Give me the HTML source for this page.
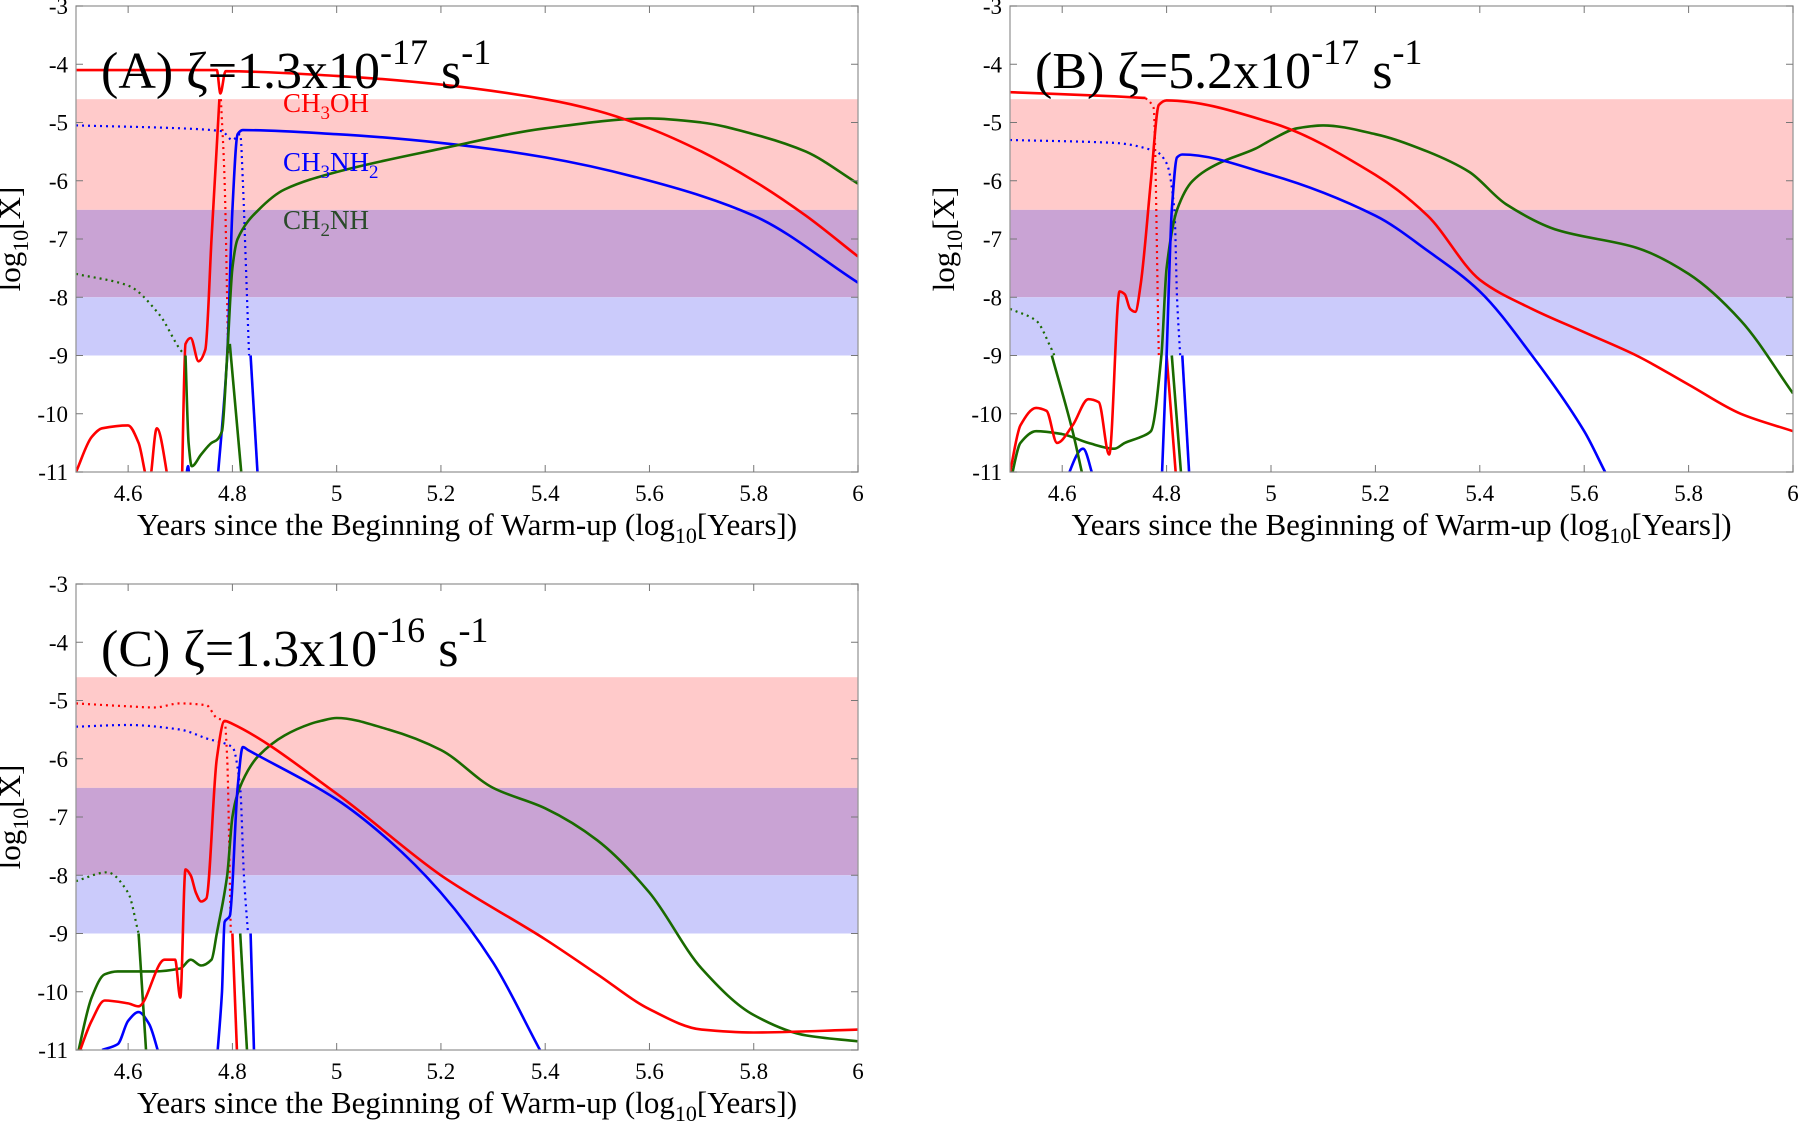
<!DOCTYPE html>
<html><head><meta charset="utf-8"><style>
html,body{margin:0;padding:0;background:#fff;}
svg{display:block;font-family:"Liberation Serif",serif;}
</style></head><body>
<svg id="fig" width="1800" height="1123" viewBox="0 0 1800 1123" xmlns="http://www.w3.org/2000/svg"></svg>
<script>
const NS="http://www.w3.org/2000/svg";
const xTicks=[4.6,4.8,5,5.2,5.4,5.6,5.8,6];
const xTickLabels=["4.6","4.8","5","5.2","5.4","5.6","5.8","6"];
const yTicks=[-3,-4,-5,-6,-7,-8,-9,-10,-11];
const yTickLabels=["-3","-4","-5","-6","-7","-8","-9","-10","-11"];
const bandLows=[-6.5,-8,-9];
const bandHighs=[-4.6,-6.5,-8];
const bandColors=["#ffcaca","#c9a3d4","#cbcbfb"];

// Panel A series
const aRed1=[[4.5,-4.1],[4.77,-4.1],[4.777,-4.5],[4.787,-4.12],[5.0,-4.2],[5.2,-4.35],[5.4,-4.6],[5.5,-4.8],[5.6,-5.1],[5.7,-5.5],[5.8,-6.0],[5.9,-6.6],[6.0,-7.3]];
const aRed2=[[4.5,-11],[4.53,-10.4],[4.55,-10.25],[4.6,-10.2],[4.62,-10.5],[4.64,-11.2],[4.655,-10.25],[4.68,-11.3]];
const aRed3=[[4.703,-11.3],[4.71,-8.8],[4.72,-8.7],[4.735,-9.1],[4.748,-8.9],[4.76,-7],[4.775,-4.6]];
const aRedDot=[[4.778,-4.6],[4.785,-6],[4.792,-9]];
const aBlueDot=[[4.5,-5.05],[4.7,-5.1],[4.78,-5.15],[4.8,-5.3],[4.815,-5.2],[4.82,-6],[4.826,-7.5],[4.832,-9]];
const aBlue1=[[4.77,-11.3],[4.79,-9],[4.8,-6.5],[4.81,-5.2],[4.82,-5.13],[5.0,-5.2],[5.2,-5.35],[5.4,-5.6],[5.6,-6.0],[5.8,-6.6],[6.0,-7.75]];
const aBlue2=[[4.835,-9],[4.85,-11.3]];
const aBlue3=[[4.71,-11.2],[4.715,-10.9],[4.718,-11.2]];
const aGreen1=[[4.71,-9],[4.716,-10.5],[4.722,-10.9],[4.74,-10.7],[4.76,-10.5],[4.77,-10.45],[4.78,-10.3],[4.79,-9],[4.8,-7.5],[4.81,-7.0],[4.85,-6.5],[4.9,-6.15],[5.0,-5.85],[5.2,-5.45],[5.4,-5.1],[5.6,-4.93],[5.7,-5.0],[5.8,-5.2],[5.9,-5.5],[6.0,-6.05]];
const aGreen2=[[4.795,-8.8],[4.82,-11.3]];
const aGreenDot=[[4.5,-7.6],[4.6,-7.8],[4.66,-8.3],[4.7,-8.9],[4.71,-9]];

// Panel B series
const bRedDot=[[4.76,-4.58],[4.775,-4.75],[4.785,-9]];
const bRed0=[[4.5,-4.48],[4.7,-4.55],[4.76,-4.58]];
const bRed1=[[4.5,-11],[4.52,-10.2],[4.55,-9.9],[4.57,-9.95],[4.59,-10.5],[4.62,-10.2],[4.65,-9.75],[4.67,-9.8],[4.69,-10.7],[4.71,-7.9],[4.72,-7.95],[4.73,-8.2],[4.74,-8.25],[4.75,-7.8],[4.77,-6],[4.785,-4.7],[4.8,-4.62],[5.0,-5.0],[5.2,-5.9],[5.3,-6.6],[5.4,-7.7],[5.5,-8.2],[5.6,-8.6],[5.7,-9.0],[5.8,-9.5],[5.9,-10.0],[6.0,-10.3]];
const bRed2=[[4.8,-9],[4.82,-11.3]];
const bBlueDot=[[4.5,-5.3],[4.7,-5.35],[4.78,-5.5],[4.8,-5.7],[4.815,-6.5],[4.82,-8],[4.826,-9]];
const bBlue1=[[4.79,-11.3],[4.8,-9],[4.81,-6.5],[4.82,-5.6],[4.83,-5.55],[5.0,-5.9],[5.2,-6.6],[5.3,-7.2],[5.4,-7.9],[5.5,-9.0],[5.6,-10.3],[5.64,-11]];
const bBlue2=[[4.6,-11.3],[4.64,-10.6],[4.66,-11.1]];
const bBlue3=[[4.83,-9],[4.845,-11.3]];
const bGreen1=[[4.5,-11.2],[4.52,-10.5],[4.55,-10.3],[4.6,-10.35],[4.65,-10.5],[4.7,-10.6],[4.72,-10.5],[4.75,-10.4],[4.77,-10.3],[4.79,-9],[4.8,-7.5],[4.82,-6.5],[4.85,-6.0],[4.9,-5.7],[4.97,-5.45],[5.0,-5.3],[5.05,-5.1],[5.1,-5.05],[5.2,-5.2],[5.3,-5.5],[5.38,-5.85],[5.45,-6.4],[5.55,-6.85],[5.7,-7.15],[5.8,-7.6],[5.9,-8.4],[6.0,-9.65]];
const bGreen2=[[4.58,-9],[4.62,-10.3],[4.64,-11.1]];
const bGreen3=[[4.81,-9],[4.83,-11.3]];
const bGreenDot=[[4.5,-8.2],[4.55,-8.4],[4.58,-8.9],[4.585,-9]];

// Panel C series
const cRedDot=[[4.5,-5.05],[4.6,-5.1],[4.65,-5.12],[4.7,-5.05],[4.75,-5.08],[4.77,-5.3],[4.785,-5.35],[4.79,-6],[4.797,-9]];
const cRed1=[[4.5,-11.2],[4.53,-10.5],[4.555,-10.15],[4.6,-10.2],[4.62,-10.25],[4.67,-9.45],[4.69,-9.45],[4.7,-10.1],[4.71,-7.9],[4.72,-8.0],[4.73,-8.3],[4.74,-8.45],[4.75,-8.4],[4.77,-6],[4.785,-5.35],[4.8,-5.4],[5.0,-6.6],[5.2,-8.0],[5.4,-9.1],[5.5,-9.7],[5.6,-10.3],[5.7,-10.65],[5.8,-10.7],[6.0,-10.65]];
const cRed2=[[4.8,-9],[4.81,-11.3]];
const cBlueDot=[[4.5,-5.45],[4.6,-5.42],[4.7,-5.5],[4.75,-5.65],[4.8,-5.8],[4.815,-6.5],[4.822,-8],[4.83,-9]];
const cBlue1=[[4.55,-11],[4.58,-10.9],[4.6,-10.5],[4.62,-10.35],[4.64,-10.55],[4.66,-11.1]];
const cBlue2=[[4.77,-11.2],[4.78,-10],[4.785,-8.8],[4.795,-8.7],[4.81,-6.5],[4.82,-5.8],[4.83,-5.85],[5.0,-6.7],[5.1,-7.4],[5.2,-8.3],[5.3,-9.5],[5.39,-11]];
const cBlue3=[[4.835,-9],[4.842,-11.2]];
const cGreen1=[[4.5,-11.2],[4.53,-10.1],[4.555,-9.7],[4.58,-9.65],[4.65,-9.65],[4.7,-9.6],[4.72,-9.45],[4.74,-9.55],[4.76,-9.45],[4.77,-9],[4.79,-8],[4.8,-7],[4.81,-6.6],[4.83,-6.2],[4.85,-5.95],[4.9,-5.6],[4.95,-5.4],[4.97,-5.35],[5.0,-5.3],[5.1,-5.5],[5.2,-5.85],[5.3,-6.5],[5.4,-6.85],[5.5,-7.4],[5.6,-8.3],[5.7,-9.6],[5.8,-10.4],[5.9,-10.75],[6.0,-10.85]];
const cGreen2=[[4.62,-9],[4.635,-11.1]];
const cGreen3=[[4.815,-9],[4.83,-11.3]];
const cGreenDot=[[4.5,-8.1],[4.56,-7.95],[4.6,-8.3],[4.62,-9]];

const RED="#ff0000",BLUE="#0000ff",GREEN="#1a6a00";
const svg=document.getElementById('fig');
function el(tag,attrs,parent){const e=document.createElementNS(NS,tag);for(const k in attrs)e.setAttribute(k,attrs[k]);(parent||svg).appendChild(e);return e;}

// monotone cubic (Fritsch-Carlson) path through pixel points
function monoPath(P){
  const n=P.length;if(n<3)return 'M'+P.map(p=>p[0].toFixed(1)+','+p[1].toFixed(1)).join('L');
  const d=[],m=[];
  for(let i=0;i<n-1;i++){const dx=P[i+1][0]-P[i][0];d.push(dx>0?(P[i+1][1]-P[i][1])/dx:0);}
  m[0]=d[0];m[n-1]=d[n-2];
  for(let i=1;i<n-1;i++){m[i]=(d[i-1]*d[i]<=0)?0:(2/(1/d[i-1]+1/d[i]));
    if(!isFinite(m[i]))m[i]=0;}
  let s='M'+P[0][0].toFixed(1)+','+P[0][1].toFixed(1);
  for(let i=0;i<n-1;i++){const h=(P[i+1][0]-P[i][0])/3;
    s+='C'+(P[i][0]+h).toFixed(1)+','+(P[i][1]+m[i]*h).toFixed(1)+' '+(P[i+1][0]-h).toFixed(1)+','+(P[i+1][1]-m[i+1]*h).toFixed(1)+' '+P[i+1][0].toFixed(1)+','+P[i+1][1].toFixed(1);}
  return s;
}

let clipN=0;
function panel(name,L,R,T,B,title,exp,series){
  const g=el('g',{});
  
  
  const sx=v=>L+(v-4.5)/1.5*(R-L);
  const sy=v=>T+(-3-v)/8*(B-T);
  for(let i=0;i<bandLows.length;i++){
    const r=el('rect',{x:L,y:sy(bandHighs[i]),width:R-L,height:sy(bandLows[i])-sy(bandHighs[i]),fill:bandColors[i]},g);
    
    
  }
  const cid='clip'+(clipN++);
  const cp=el('clipPath',{id:cid},g);el('rect',{x:L,y:T,width:R-L,height:B-T},cp);
  const sg=el('g',{'clip-path':'url(#'+cid+')'},g);
  series.forEach(s=>{
    const P=s.d.map(q=>[sx(q[0]),sy(q[1])]);
    const p=el('path',{d:monoPath(P),fill:'none',stroke:s.c,'stroke-width':s.dot?2.2:2.6,'stroke-dasharray':s.dot?'2 4':'none','stroke-linejoin':'round'},sg);
    
    
  });
  el('rect',{x:L,y:T,width:R-L,height:B-T,fill:'none',stroke:'#999','stroke-width':1.3},g);
  xTicks.forEach((v,i)=>{
    el('line',{x1:sx(v),x2:sx(v),y1:B,y2:B-7,stroke:'#777'},g);
    el('line',{x1:sx(v),x2:sx(v),y1:T,y2:T+7,stroke:'#777'},g);
    const t=el('text',{x:sx(v),y:B+29,'font-size':23,'text-anchor':'middle'},g);t.textContent=xTickLabels[i];
    
    
  });
  yTicks.forEach((v,i)=>{
    el('line',{x1:L,x2:L+7,y1:sy(v),y2:sy(v),stroke:'#777'},g);
    el('line',{x1:R,x2:R-7,y1:sy(v),y2:sy(v),stroke:'#777'},g);
    const t=el('text',{x:L-8,y:sy(v)+8,'font-size':23,'text-anchor':'end'},g);t.textContent=yTickLabels[i];
    
    
  });
  const xt=el('text',{x:(L+R)/2,y:B+63,'font-size':31,'text-anchor':'middle'},g);
  xt.innerHTML='Years since the Beginning of Warm-up (log<tspan font-size="22" dy="8">10</tspan><tspan dy="-8">[Years])</tspan>';
  
  
  const cy=(T+B)/2;
  const yt=el('text',{x:L-56,y:cy,'font-size':31,'text-anchor':'middle',transform:'rotate(-90 '+(L-56)+' '+cy+')'},g);
  yt.innerHTML='log<tspan font-size="22" dy="8">10</tspan><tspan dy="-8">[X]</tspan>';
  
  
  const tt=el('text',{x:L+25,y:T+82,'font-size':52},g);
  tt.innerHTML=title+'x10<tspan font-size="36" dy="-24">'+exp+'</tspan><tspan dy="24"> s</tspan><tspan font-size="36" dy="-24">-1</tspan>';
  
  
  return g;
}
function S(d,c,n,dot){return {d:d,c:c,n:n,dot:!!dot};}
const gA=panel('panel-a',76,858,6,472,'(A) ζ=1.3','-17',[
 S(aRedDot,RED,'ch3oh-ice-a',1),S(aBlueDot,BLUE,'ch3nh2-ice-a',1),S(aGreenDot,GREEN,'ch2nh-ice-a',1),
 S(aRed2,RED,'ch3oh-gas-a2'),S(aRed3,RED,'ch3oh-gas-a3'),S(aBlue3,BLUE,'ch3nh2-gas-a3'),S(aBlue2,BLUE,'ch3nh2-gas-a2'),S(aBlue1,BLUE,'ch3nh2-gas-a'),
 S(aGreen2,GREEN,'ch2nh-gas-a2'),S(aGreen1,GREEN,'ch2nh-gas-a'),S(aRed1,RED,'ch3oh-gas-a')]);
const gB=panel('panel-b',1010,1793,6,472,'(B) ζ=5.2','-17',[
 S(bRedDot,RED,'ch3oh-ice-b',1),S(bBlueDot,BLUE,'ch3nh2-ice-b',1),S(bGreenDot,GREEN,'ch2nh-ice-b',1),S(bRed0,RED,'ch3oh-top-b'),
 S(bBlue2,BLUE,'ch3nh2-gas-b2'),S(bBlue3,BLUE,'ch3nh2-gas-b3'),S(bGreen2,GREEN,'ch2nh-gas-b2'),S(bGreen3,GREEN,'ch2nh-gas-b3'),S(bRed2,RED,'ch3oh-gas-b2'),
 S(bGreen1,GREEN,'ch2nh-gas-b'),S(bBlue1,BLUE,'ch3nh2-gas-b'),S(bRed1,RED,'ch3oh-gas-b')]);
const gC=panel('panel-c',76,858,584,1050,'(C) ζ=1.3','-16',[
 S(cRedDot,RED,'ch3oh-ice-c',1),S(cBlueDot,BLUE,'ch3nh2-ice-c',1),S(cGreenDot,GREEN,'ch2nh-ice-c',1),
 S(cBlue1,BLUE,'ch3nh2-gas-c1'),S(cBlue3,BLUE,'ch3nh2-gas-c3'),S(cGreen2,GREEN,'ch2nh-gas-c2'),S(cGreen3,GREEN,'ch2nh-gas-c3'),S(cRed2,RED,'ch3oh-gas-c2'),
 S(cGreen1,GREEN,'ch2nh-gas-c'),S(cBlue2,BLUE,'ch3nh2-gas-c'),S(cRed1,RED,'ch3oh-gas-c')]);
function lbl(x,y,c,html,n){const t=el('text',{x:x,y:y,'font-size':27,fill:c},gA);t.innerHTML=html;
 
 }
lbl(283,112,RED,'CH<tspan font-size="19" dy="7">3</tspan><tspan dy="-7">OH</tspan>','label-ch3oh');
lbl(283,171,BLUE,'CH<tspan font-size="19" dy="7">3</tspan><tspan dy="-7">NH</tspan><tspan font-size="19" dy="7">2</tspan>','label-ch3nh2');
lbl(283,229,'#2a4a2a','CH<tspan font-size="19" dy="7">2</tspan><tspan dy="-7">NH</tspan>','label-ch2nh');
</script>
</body></html>
